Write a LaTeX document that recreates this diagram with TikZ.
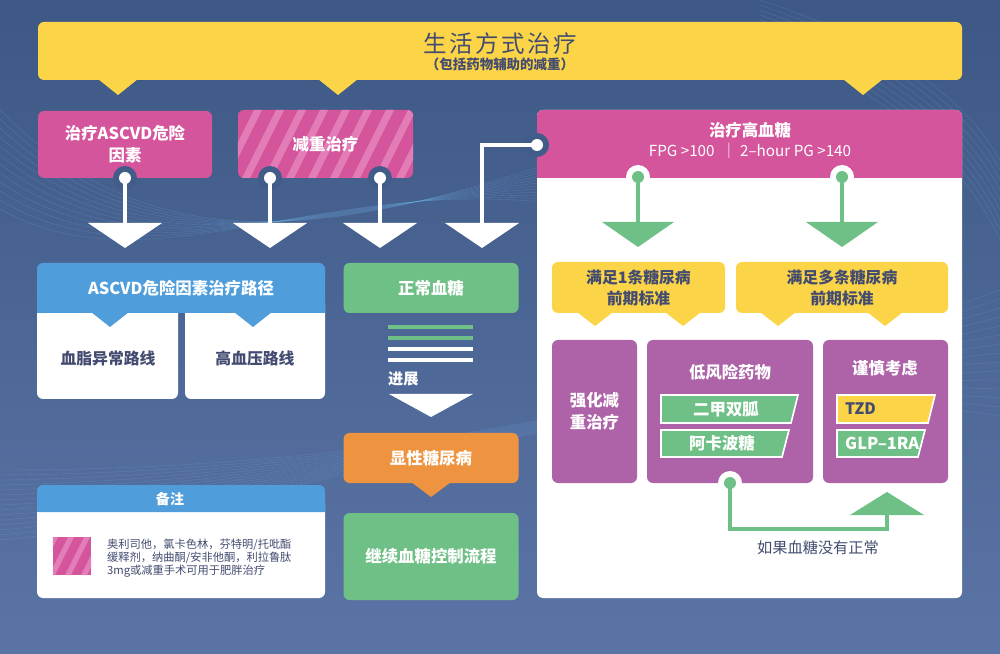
\documentclass[tikz,border=0pt]{standalone}
\usepackage{fontspec}
\setmainfont{Noto Sans CJK SC}
\usepackage{xcolor}
\definecolor{bgtop}{HTML}{3D5884}
\definecolor{bgbot}{HTML}{5B74A6}
\definecolor{bgring}{HTML}{415C88}
\definecolor{wave}{HTML}{6FB3E8}
\definecolor{sun}{HTML}{FBD448}
\definecolor{rose}{HTML}{D5559C}
\definecolor{rosestripe}{HTML}{E27DB7}
\definecolor{plum}{HTML}{AE62A8}
\definecolor{leaf}{HTML}{6FC086}
\definecolor{sky}{HTML}{4F9EDB}
\definecolor{amber}{HTML}{EE9441}
\definecolor{ink}{HTML}{434C70}
\usetikzlibrary{positioning,calc}

\begin{document}
\begin{tikzpicture}
	[x=0.3mm,y=-0.3mm,
	wd/.style={minimum width=#1*0.3mm},
	ht/.style={minimum height=#1*0.3mm},
	box/.style={rounded corners=1.8mm,inner sep=0pt,align=center,text=white,font=\fontsize{14}{19}\selectfont\bfseries},
	darktext/.style={text=ink,align=center,font=\fontsize{13.5}{18}\selectfont\bfseries},
	jointring/.style={circle,inner sep=0pt,minimum size=7.2mm,fill=#1},
	jointdot/.style={circle,inner sep=0pt,minimum size=3.6mm,fill=#1},
	wline/.style={draw=white,line width=1.2mm},
	gline/.style={draw=leaf,line width=1mm},
	tagbox/.style={draw=white,line width=0.5mm},
	wave line/.style={draw=wave,line width=0.3pt,opacity=0.3}]
	\useasboundingbox (0,0) rectangle (1000,654);
	\shade[top color=bgtop,bottom color=bgbot] (0,0) rectangle (1000,654);
	% background waves
	\foreach \i in {0,...,14}
		\draw[wave line] (0,470+\i*5) .. controls (300,470+\i*3) and (620,430-\i*5) .. (1000,290+\i*9);
	\foreach \i in {0,...,11}
		\draw[wave line] (0,110+\i*9) .. controls (150,260+\i*3) and (320,240-\i*6) .. (560,160+\i*4);
	\foreach \i in {0,...,8}
		\draw[wave line] (760,0+\i*5) .. controls (880,40+\i*6) and (960,90+\i*8) .. (1000,160+\i*10);

	% lifestyle banner
	\node[box,fill=sun,wd=924,ht=58] (life) at (500,51) {};
	\foreach \x in {118,338,863}
		\fill[sun] (\x-20,79) -- (\x+20,79) -- (\x,95) -- cycle;
	\node[text=ink,font=\fontsize{20}{24}\selectfont\addfontfeature{LetterSpace=11}] (lifet) at (500,44) {生活方式治疗};
	\node[text=ink,font=\fontsize{11.5}{14}\selectfont\bfseries] (lifes) at (500,64) {（包括药物辅助的减重）};

	% top boxes
	\node[box,fill=rose,wd=174,ht=67] (ascvd) at (125,144.5) {治疗ASCVD危险\\因素};
	\node[box,fill=rose,wd=175,ht=68] (wl) at (325.5,144) {};
	\begin{scope}
		\clip[rounded corners=1.8mm] (wl.north west) rectangle (wl.south east);
		\foreach \s in {-40,-18,...,200}
			\fill[rosestripe] (238+\s,178) -- ++(8,0) -- ++(34,-68) -- ++(-8,0) -- cycle;
	\end{scope}
	\node[box] (wlt) at (wl.center) {减重治疗};

	% hyperglycaemia panel
	\node[box,fill=white,wd=425,ht=488] (hyper) at (749.5,354) {};
	\fill[rose,rounded corners=1.8mm] (537,178) -- (537,110) -- (962,110) -- (962,178);
	\node[box] (hypert) at (750,130) {治疗高血糖};
	\node[text=white,font=\fontsize{13}{16}\selectfont] (hyperc) at (750,151) {FPG >100 \ ｜ 2–hour PG >140};

	% white connectors
	\coordinate (a1) at (125,223);
	\coordinate (a2) at (270,223);
	\coordinate (a3) at (380,223);
	\coordinate (a4) at (482,223);
	\node[jointring=bgring] (r1) at (125,178) {};
	\node[jointring=bgring] (r2) at (270,178) {};
	\node[jointring=bgring] (r3) at (380,178) {};
	\node[jointring=bgring] (r4) at (537,145) {};
	\node[jointdot=white] (d1) at (r1) {};
	\node[jointdot=white] (d2) at (r2) {};
	\node[jointdot=white] (d3) at (r3) {};
	\node[jointdot=white] (d4) at (r4) {};
	\draw[wline] (d1.center) -- (a1);
	\draw[wline] (d2.center) -- (a2);
	\draw[wline] (d3.center) -- (a3);
	\draw[wline] (d4.center) -| (a4);
	\foreach \p in {a1,a2,a3,a4}
		\fill[white] (\p) ++(-37,0) -- ++(74,0) -- ++(-37,25) -- cycle;

	% green connectors in panel
	\coordinate (g1) at (638,222);
	\coordinate (g2) at (842,222);
	\node[jointring=white] (r5) at (638,177) {};
	\node[jointring=white] (r6) at (842,177) {};
	\node[jointdot=leaf] (d5) at (r5) {};
	\node[jointdot=leaf] (d6) at (r6) {};
	\draw[gline] (d5.center) -- (g1);
	\draw[gline] (d6.center) -- (g2);
	\foreach \p in {g1,g2}
		\fill[leaf] (\p) ++(-36,0) -- ++(72,0) -- ++(-36,25) -- cycle;

	% prediabetes criteria
	\node[box,fill=sun,wd=173,ht=51,darktext] (pre1) at (638.5,287.5) {满足1条糖尿病\\前期标准};
	\node[box,fill=sun,wd=212,ht=51,darktext] (pre2) at (842,287.5) {满足多条糖尿病\\前期标准};
	\foreach \x in {595,683,778,885}
		\fill[sun] (\x-18,312) -- (\x+18,312) -- (\x,326) -- cycle;

	% treatment options
	\node[box,fill=plum,wd=85,ht=143] (intens) at (594.5,411.5) {强化减\\重治疗};
	\node[box,fill=plum,wd=166,ht=143] (lowrisk) at (730,411.5) {};
	\node[box,fill=plum,wd=125,ht=143] (caution) at (885.5,411.5) {};
	\node[box] (lowriskt) at (730,372) {低风险药物};
	\node[box] (cautiont) at (885,368) {谨慎考虑};
	\filldraw[tagbox,fill=leaf] (661,395) -- (798,395) -- (791,423) -- (661,423) -- cycle;
	\filldraw[tagbox,fill=leaf] (661,430) -- (789,430) -- (782,457) -- (661,457) -- cycle;
	\filldraw[tagbox,fill=sun] (837,395) -- (935,395) -- (928,423) -- (837,423) -- cycle;
	\filldraw[tagbox,fill=leaf] (837,430) -- (925,430) -- (918,457) -- (837,457) -- cycle;
	\node[box] (metf) at (726,409) {二甲双胍};
	\node[box] (acar) at (722,443) {阿卡波糖};
	\node[box,darktext,anchor=west] (tzd) at (845,409) {TZD};
	\node[box,anchor=west] (glp) at (845,443) {GLP–1RA};

	% loop back
	\coordinate (up) at (887,515);
	\node[jointring=white] (r7) at (730,483) {};
	\node[jointdot=leaf] (d7) at (r7) {};
	\draw[gline] (d7.center) -- ++(0,46) -| (up);
	\fill[leaf] (up) ++(-37,0) -- ++(74,0) -- ++(-37,-23) -- cycle;
	\node[text=ink,font=\fontsize{13}{16}\selectfont] (ifnot) at (818,548) {如果血糖没有正常};

	% ASCVD pathway
	\node[box,fill=white,wd=141,ht=100] (lipid) at (107.5,349) {};
	\node[box,fill=white,wd=140,ht=100] (hbp) at (255,349) {};
	\fill[sky,rounded corners=1.8mm] (37,313) -- (37,263) -- (325,263) -- (325,313);
	\foreach \x in {110,253}
		\fill[sky] (\x-19,312) -- (\x+19,312) -- (\x,327) -- cycle;
	\node[box] (ascvdp) at (181,288) {ASCVD危险因素治疗路径};
	\node[darktext] (lipidt) at (108,358) {血脂异常路线};
	\node[darktext] (hbpt) at (255,358) {高血压路线};

	% glucose progression
	\node[box,fill=leaf,wd=175,ht=50] (normal) at (431,288) {正常血糖};
	\foreach \y/\c in {327/leaf,338/leaf,349/white,360/white}
		\draw[\c,line width=1.2mm] (388,\y) -- (473,\y);
	\node[text=white,font=\fontsize{13}{16}\selectfont\bfseries,anchor=west] (prog) at (384,379) {进展};
	\coordinate (a5) at (431,394);
	\fill[white] (a5) ++(-42,0) -- ++(84,0) -- ++(-42,23) -- cycle;
	\node[box,fill=amber,wd=175,ht=50] (overt) at (431,458) {显性糖尿病};
	\fill[amber] (411,482) -- (451,482) -- (431,497) -- cycle;
	\node[box,fill=leaf,wd=175,ht=87] (cont) at (431,556.5) {继续血糖控制流程};

	% note
	\node[box,fill=white,wd=288,ht=100] (note) at (181,548) {};
	\fill[sky,rounded corners=1.8mm] (37,512) -- (37,485) -- (325,485) -- (325,512);
	\node[text=white,font=\fontsize{12}{15}\selectfont\bfseries] (notet) at (170,499) {备注};
	\node[fill=rose,wd=38,ht=38,inner sep=0pt] (swatch) at (72,556) {};
	\begin{scope}
		\clip (swatch.north west) rectangle (swatch.south east);
		\foreach \s in {-20,-4,...,40}
			\fill[rosestripe] (53+\s,575) -- ++(6,0) -- ++(19,-38) -- ++(-6,0) -- cycle;
	\end{scope}
	\node[anchor=north west,align=left,text=ink,font=\fontsize{9.6}{11.2}\selectfont] (notebody) at (103,535) {奥利司他，氯卡色林，芬特明/托吡酯\\缓释剂，纳曲酮/安非他酮，利拉鲁肽\\3mg或减重手术可用于肥胖治疗};
\end{tikzpicture}
\end{document}
